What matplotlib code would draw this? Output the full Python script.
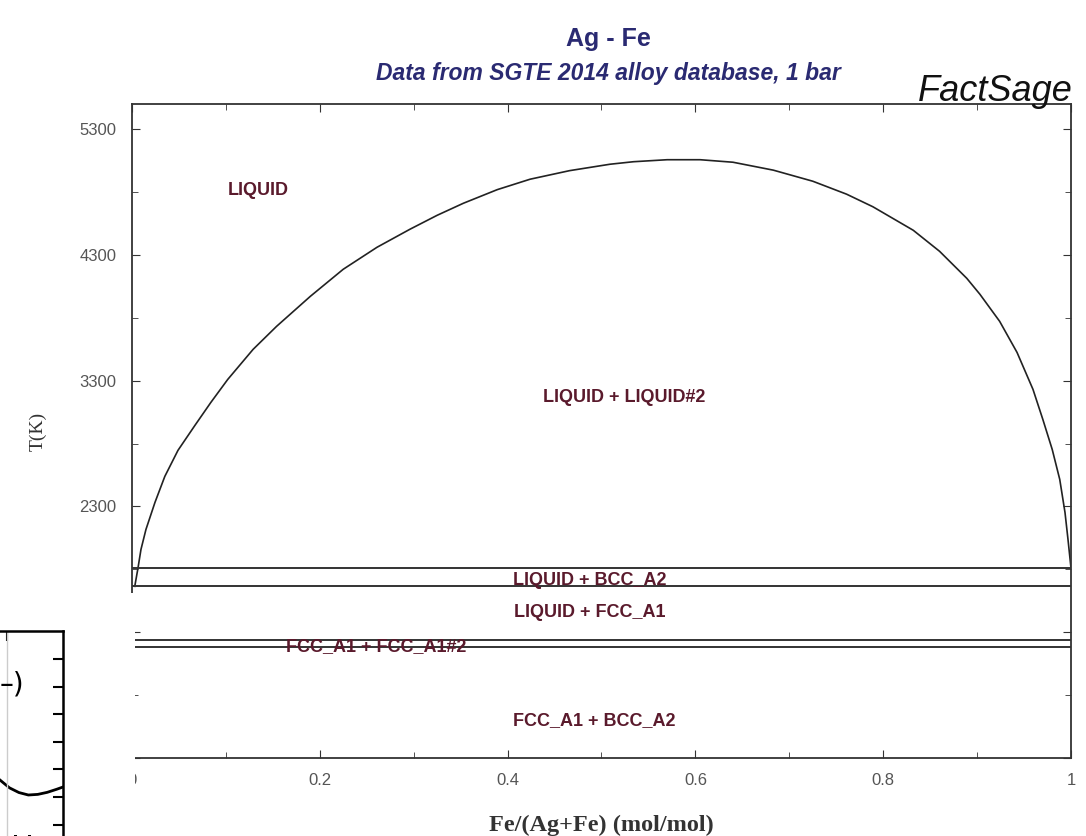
import numpy as np
import matplotlib
matplotlib.use("Agg")
import matplotlib.pyplot as plt
from matplotlib.patches import Rectangle

# miscibility gap LIQUID + LIQUID#2
gap_x = [0.003, 0.0064, 0.0096, 0.0149, 0.0245, 0.035, 0.049, 0.067, 0.084, 0.102,
         0.129, 0.154, 0.190, 0.225, 0.261, 0.296, 0.325, 0.353, 0.389, 0.424,
         0.466, 0.509, 0.534, 0.570, 0.605, 0.640, 0.683, 0.725, 0.761, 0.789,
         0.832, 0.860, 0.889, 0.903, 0.924, 0.9425, 0.9595, 0.970, 0.980, 0.988,
         0.9936, 0.9968, 1.0]
gap_T = [1665, 1809, 1958, 2117, 2332, 2539, 2746, 2944, 3127, 3310,
         3549, 3732, 3971, 4186, 4361, 4504, 4615, 4711, 4819, 4902,
         4970, 5021, 5041, 5057, 5057, 5037, 4974, 4886, 4783, 4683,
         4496, 4329, 4114, 3987, 3772, 3525, 3231, 2992, 2753, 2515,
         2252, 2037, 1809]

# invariant lines (K)
iso_T = [1809, 1665, 1235, 1185]

# phase labels
labels = ["LIQUID", "LIQUID + LIQUID#2", "LIQUID + BCC_A2", "LIQUID + FCC_A1",
          "FCC_A1 + FCC_A1#2", "FCC_A1 + BCC_A2"]
label_x = [0.135, 0.524, 0.487, 0.488, 0.260, 0.492]
label_T = [4810, 3167, 1712, 1460, 1190, 600]

x_ticks = [0, 0.2, 0.4, 0.6, 0.8, 1]
x_ticklabels = ["0", "0.2", "0.4", "0.6", "0.8", "1"]
y_ticks = [300, 1300, 2300, 3300, 4300, 5300]

# fragment of another plot pasted in the bottom-left corner
frag_x = [0.0, 0.15, 0.3, 0.45, 0.6, 0.75, 0.9, 1.0]
frag_y = [0.273, 0.235, 0.212, 0.200, 0.203, 0.213, 0.228, 0.239]
frag_ticks = [0.054, 0.19, 0.327, 0.459, 0.595, 0.727, 0.863]

fig = plt.figure(figsize=(10.86, 8.36), dpi=100)
ax = fig.add_axes([0.1215, 0.0933, 0.8647, 0.7823])

ax.plot(gap_x, gap_T, color="#222222", lw=1.2)
for t in iso_T:
    ax.axhline(t, color="#333333", lw=1.4)

for s, x, t in zip(labels, label_x, label_T):
    ax.text(x, t, s, ha="center", va="center", fontsize=13, color="#5a1a2c",
            family="Liberation Sans", fontweight="bold")

ax.set_xlim(0, 1)
ax.set_ylim(300, 5500)
ax.set_xticks(x_ticks)
ax.set_xticklabels(x_ticklabels)
ax.set_xticks(np.arange(0.1, 1, 0.2), minor=True)
ax.set_yticks(y_ticks)
ax.set_yticks(np.arange(800, 5500, 1000), minor=True)
ax.tick_params(which="both", direction="in", top=True, right=True,
               labelsize=12, labelcolor="#555555", color="#333333", pad=11)
ax.tick_params(which="major", length=6)
ax.tick_params(which="minor", length=4)
for lab in ax.get_xticklabels() + ax.get_yticklabels():
    lab.set_family("Liberation Sans")
for sp in ax.spines.values():
    sp.set_color("#333333")
    sp.set_linewidth(1.3)

ax.set_xlabel("Fe/(Ag+Fe) (mol/mol)", family="Liberation Serif", fontsize=17.5,
              fontweight="bold", color="#333333", labelpad=19)
ax.set_ylabel("T(K)", family="Liberation Serif", fontsize=14, color="#333333",
              labelpad=24)

fig.text(0.56, 0.953, "Ag - Fe", ha="center", va="center", fontsize=18,
         fontweight="bold", color="#2a2a72", family="Liberation Sans")
fig.text(0.56, 0.912, "Data from SGTE 2014 alloy database, 1 bar", ha="center",
         va="center", fontsize=16.5, fontweight="bold", style="italic",
         color="#2a2a72", family="Liberation Sans")
fig.text(0.988, 0.891, "FactSage", ha="right", va="center", fontsize=26,
         style="italic", color="#111111", family="Liberation Sans")

# white patch hiding the lower left part of the screenshot
fig.patches.append(Rectangle((0, 0), 135 / 1086, 1 - 593 / 836,
                             transform=fig.transFigure, facecolor="white",
                             edgecolor="none", zorder=5))

ins = fig.add_axes([0, 0, 63 / 1086, 205 / 836], zorder=10)
ins.plot(frag_x, frag_y, color="black", lw=2)
ins.axvline(0.11, color="#cccccc", lw=1)
ins.set_xlim(0, 1)
ins.set_ylim(0, 1)
ins.set_xticks([0.11])
ins.set_yticks(frag_ticks)
ins.tick_params(direction="in", left=False, bottom=False, top=True, right=True,
                labelleft=False, labelbottom=False, length=7, width=1.5)
ins.spines["left"].set_visible(False)
ins.spines["bottom"].set_visible(False)
ins.spines["top"].set_linewidth(1.8)
ins.spines["right"].set_linewidth(1.8)
ins.text(0.38, 0.74, "–)", ha="right", va="center", fontsize=20, clip_on=True)
ins.text(0.35, -0.06, "H", ha="center", va="center", fontsize=22, clip_on=True)

fig.savefig("out.png", dpi=100)
